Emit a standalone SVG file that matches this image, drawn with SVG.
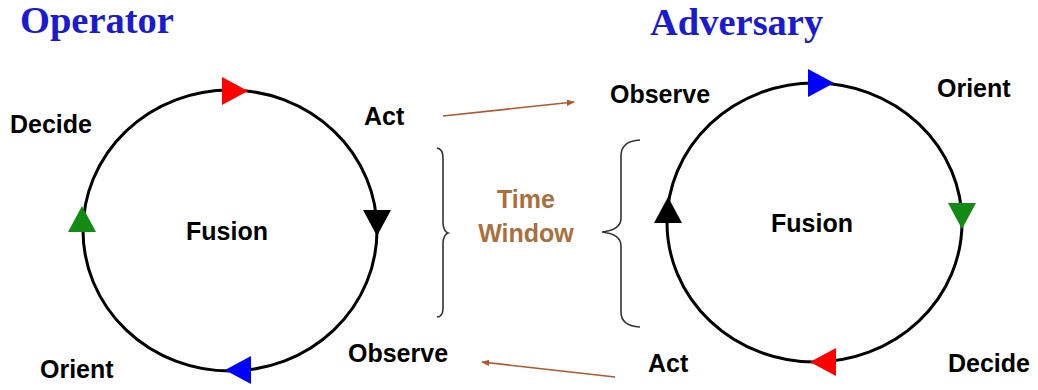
<svg xmlns="http://www.w3.org/2000/svg" width="1038" height="390" viewBox="0 0 1038 390">
<style>
.lbl{font-family:"Liberation Sans",Arial,sans-serif;font-weight:bold;font-size:25px;fill:#000}
.title{font-family:"Liberation Serif","Times New Roman",serif;font-weight:bold;font-size:38.5px;fill:#1a1ad2}
.tw{font-family:"Liberation Sans",Arial,sans-serif;font-weight:bold;font-size:25px;fill:#a8703c}
.loop{fill:none;stroke:#000;stroke-width:3}
.brace{fill:none;stroke:#333;stroke-width:1.6}
.link{fill:none;stroke:#b0582c;stroke-width:1.6}
</style>
<defs>
<path id="tri" d="M-13,-14 L13,0 L-13,14 Z"/>
<marker id="ah" viewBox="0 0 10 10" refX="9" refY="5" markerWidth="8" markerHeight="8" orient="auto" markerUnits="userSpaceOnUse">
<path d="M0,1 L10,5 L0,9 Z" fill="#b0582c"/>
</marker>
</defs>
<rect width="1038" height="390" fill="#fff"/>
<g id="operator">
<text class="title" x="20" y="33">Operator</text>
<ellipse class="loop" cx="230" cy="230.5" rx="147" ry="140.5"/>
<use href="#tri" fill="#ff0000" transform="translate(235,91)"/>
<use href="#tri" fill="#000" transform="translate(377,223) rotate(90)"/>
<use href="#tri" fill="#0000ff" transform="translate(238,370) rotate(180)"/>
<use href="#tri" fill="#138a13" transform="translate(82,219) rotate(-90)"/>
<text class="lbl" x="227" y="240" text-anchor="middle">Fusion</text>
<text class="lbl" x="10" y="133">Decide</text>
<text class="lbl" x="364" y="125">Act</text>
<text class="lbl" x="40" y="378">Orient</text>
<text class="lbl" x="348" y="362">Observe</text>
</g>
<g id="adversary">
<text class="title" x="650" y="35">Adversary</text>
<ellipse class="loop" cx="814.5" cy="222.5" rx="147.5" ry="139.5"/>
<use href="#tri" fill="#0000ff" transform="translate(821,83)"/>
<use href="#tri" fill="#138a13" transform="translate(962,216) rotate(90)"/>
<use href="#tri" fill="#ff0000" transform="translate(823,362) rotate(180)"/>
<use href="#tri" fill="#000" transform="translate(668,210) rotate(-90)"/>
<text class="lbl" x="812" y="232" text-anchor="middle">Fusion</text>
<text class="lbl" x="610" y="103">Observe</text>
<text class="lbl" x="937" y="97">Orient</text>
<text class="lbl" x="648" y="372">Act</text>
<text class="lbl" x="948" y="372">Decide</text>
</g>
<g id="time-window">
<path class="brace" d="M437,148 Q443,149 443,158 L443,222 Q443,231 448,233 Q443,235 443,244 L443,308 Q443,317 437,317"/>
<path class="brace" d="M640,140 Q621,141 621,156 L621,218 Q621,230 602,232 Q621,234 621,246 L621,312 Q621,326 640,327"/>
<text class="tw" x="526" y="208" text-anchor="middle">Time</text>
<text class="tw" x="526" y="242" text-anchor="middle">Window</text>
</g>
<g id="connectors">
<line class="link" x1="443" y1="116" x2="574" y2="102" marker-end="url(#ah)"/>
<line class="link" x1="615" y1="377" x2="482" y2="362" marker-end="url(#ah)"/>
</g>
</svg>
